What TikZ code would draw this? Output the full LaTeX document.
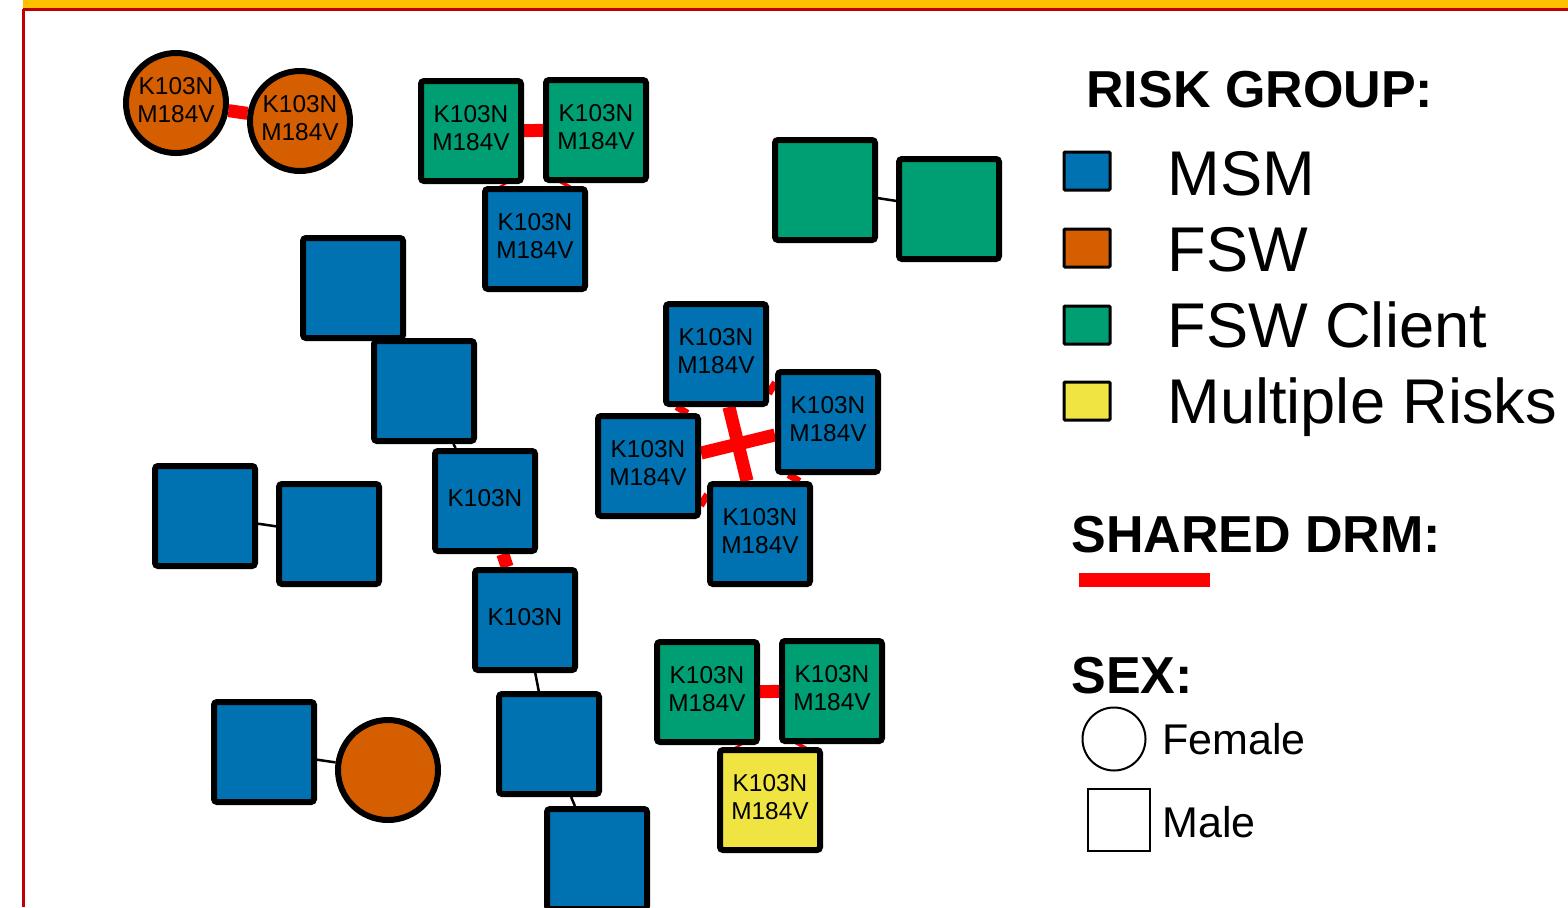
\documentclass[tikz,border=0pt]{standalone}
\usepackage{fontspec}
\setmainfont{Liberation Sans}
\usetikzlibrary{backgrounds}
\definecolor{msm}{HTML}{0072B2}
\definecolor{fsw}{HTML}{D55E00}
\definecolor{client}{HTML}{009E73}
\definecolor{multi}{HTML}{F0E442}
\definecolor{drmred}{HTML}{FF0000}
\definecolor{frameyellow}{HTML}{FFC000}
\definecolor{framered}{HTML}{C00000}
\begin{document}
\begin{tikzpicture}[x=0.5pt,y=-0.5pt,
  person/.style={draw=black,line width=3pt,minimum size=50pt,inner sep=0pt,align=center,
    text depth=3pt,font=\fontsize{12.2}{14}\selectfont},
  male/.style={person,rectangle,rounded corners=1.5pt},
  female/.style={person,circle},
  drm/.style={draw=drmred,line width=6.5pt},
  link/.style={draw=black,line width=1.25pt},
  heading/.style={anchor=base west,inner sep=0pt,font=\fontsize{26}{30}\selectfont\bfseries},
  legtext/.style={anchor=base west,inner sep=0pt,font=\fontsize{31.6}{36}\selectfont},
  sextext/.style={anchor=base west,inner sep=0pt,font=\fontsize{21.5}{26}\selectfont},
  legbox/.style={draw=black,line width=1.5pt,minimum width=23pt,minimum height=19pt,inner sep=0pt,rounded corners=0.5pt},
  sexshape/.style={draw=black,line width=1pt,inner sep=0pt,fill=white}
]
\useasboundingbox (0,0) rectangle (1568,907);
\clip (0,0) rectangle (1568,907);
% frame
\fill[frameyellow] (23,0) rectangle (1568,9);
\draw[framered,line width=1.5pt] (23,9.5) -- (1568,9.5);
\draw[framered,line width=1.5pt] (23.5,9) -- (23.5,907);

% nodes
\node[female,fill=fsw] (f1) at (176,103) {K103N\\M184V};
\node[female,fill=fsw] (f2) at (300,121) {K103N\\M184V};

\node[male,fill=client] (a) at (471,131) {K103N\\M184V};
\node[male,fill=client] (b) at (596,130) {K103N\\M184V};
\node[male,fill=msm] (c) at (535,239) {K103N\\M184V};

\node[male,fill=client] (d) at (825,190) {};
\node[male,fill=client] (e) at (949,209) {};

\node[male,fill=msm] (f) at (353,288) {};
\node[male,fill=msm] (g) at (424,391) {};
\node[male,fill=msm] (h) at (485,501) {K103N};
\node[male,fill=msm] (i) at (205,516) {};
\node[male,fill=msm] (j) at (329,534) {};
\node[male,fill=msm] (k) at (525,620) {K103N};
\node[male,fill=msm] (l) at (549,744) {};
\node[male,fill=msm] (m) at (597,859) {};

\node[male,fill=msm] (n) at (716,354) {K103N\\M184V};
\node[male,fill=msm] (o) at (828,422) {K103N\\M184V};
\node[male,fill=msm] (p) at (648,466) {K103N\\M184V};
\node[male,fill=msm] (q) at (760,534) {K103N\\M184V};

\node[male,fill=client] (r) at (707,692) {K103N\\M184V};
\node[male,fill=client] (s) at (832,691) {K103N\\M184V};
\node[male,fill=multi] (t) at (770,800) {K103N\\M184V};

\node[male,fill=msm] (u) at (264,752) {};
\node[female,fill=fsw] (v) at (388,770) {};

% edges
\begin{scope}[on background layer]
\draw[drm] (f1) -- (f2);
\draw[drm] (a) -- (b);
\draw[drm] (a) -- (c);
\draw[drm] (b) -- (c);
\draw[drm] (h) -- (k);
\draw[drm] (n) -- (o);
\draw[drm] (n) -- (p);
\draw[drm] (n) -- (q);
\draw[drm] (o) -- (p);
\draw[drm] (o) -- (q);
\draw[drm] (p) -- (q);
\draw[drm] (r) -- (s);
\draw[drm] (r) -- (t);
\draw[drm] (s) -- (t);
\draw[link] (d) -- (e);
\draw[link] (f) -- (g);
\draw[link] (g) -- (h);
\draw[link] (i) -- (j);
\draw[link] (k) -- (l);
\draw[link] (l) -- (m);
\draw[link] (u) -- (v);
\end{scope}

% legend
\node[heading] (hrisk) at (1086,107) {RISK GROUP:};
\node[legbox,fill=msm] (lmsm) at (1087,171) {};
\node[legbox,fill=fsw] (lfsw) at (1087,248) {};
\node[legbox,fill=client] (lclient) at (1087,325) {};
\node[legbox,fill=multi] (lmulti) at (1087,401) {};
\node[legtext] (tmsm) at (1167,195) {MSM};
\node[legtext] (tfsw) at (1167,271) {FSW};
\node[legtext] (tclient) at (1167,347) {FSW Client};
\node[legtext] (tmulti) at (1167,423) {Multiple Risks};

\node[heading] (hdrm) at (1071,552) {SHARED DRM:};
\coordinate (drmA) at (1079,580);
\coordinate (drmB) at (1210,580);
\draw[draw=drmred,line width=7pt] (drmA) -- (drmB);

\node[heading] (hsex) at (1071,693) {SEX:};
\node[sexshape,circle,minimum size=31.5pt] (lfem) at (1114,739) {};
\node[sexshape,rectangle,minimum size=31pt] (lmale) at (1119,820) {};
\node[sextext] (tfem) at (1162,754) {Female};
\node[sextext] (tmale) at (1162,837) {Male};
\end{tikzpicture}
\end{document}
